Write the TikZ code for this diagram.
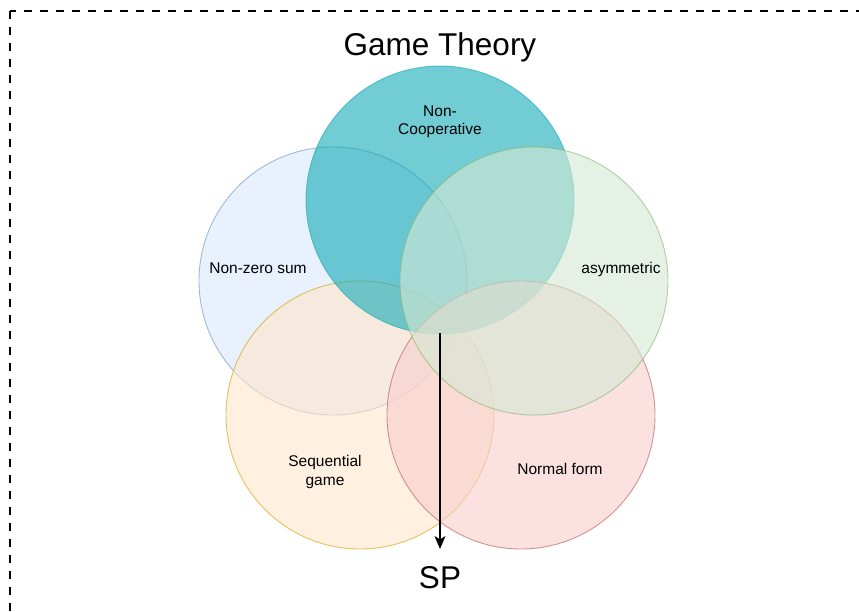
\documentclass[tikz,border=0pt]{standalone}
\usepackage{fontspec}
\setmainfont{Liberation Sans}
\usetikzlibrary{arrows.meta}

\definecolor{tealfill}{HTML}{12AAB5}
\definecolor{bluefill}{HTML}{DAE8FC}
\definecolor{blueline}{HTML}{6C8EBF}
\definecolor{greenfill}{HTML}{D5E8D4}
\definecolor{greenline}{HTML}{82B366}
\definecolor{orangefill}{HTML}{FFE6CC}
\definecolor{orangeline}{HTML}{D79B00}
\definecolor{redfill}{HTML}{F8CECC}
\definecolor{redline}{HTML}{B85450}

\tikzset{
  setcircle/.style={circle, minimum size=268pt, inner sep=0pt, line width=0.9pt,
    fill opacity=0.6, draw opacity=0.6},
  smalllabel/.style={font=\fontsize{15.5}{18.5}\selectfont, align=center, inner sep=0pt, anchor=base},
  biglabel/.style={font=\fontsize{31.5}{36}\selectfont, inner sep=0pt, anchor=base},
}

\begin{document}
\begin{tikzpicture}[x=1pt, y=-1pt]
  \useasboundingbox (0,0) rectangle (859,612);

  % dashed frame, running past the right and bottom edges
  \begin{scope}
    \clip (0,0) rectangle (859,612);
    \draw[line width=2pt, dash pattern=on 8pt off 8pt] (10,11) rectangle (900,660);
  \end{scope}

  % the five sets, back to front
  \node[setcircle, fill=bluefill, draw=blueline]     (nzs)   at (333,281) {};
  \node[setcircle, fill=orangefill, draw=orangeline] (seq)   at (360,415) {};
  \node[setcircle, fill=tealfill, draw=tealfill]     (coop)  at (440,200) {};
  \node[setcircle, fill=redfill, draw=redline]       (norm)  at (521,415) {};
  \node[setcircle, fill=greenfill, draw=greenline]   (asym)  at (534,281) {};

  % labels (multi-line labels are placed by their last baseline)
  \node[biglabel] (title) at (440,56) {Game Theory};
  \node[smalllabel] (lcoop) at (440,135) {Non-\\Cooperative};
  \node[smalllabel] (lnzs)  at (258,273) {Non-zero sum};
  \node[smalllabel] (lasym) at (621,273) {asymmetric};
  \node[smalllabel] (lseq)  at (325,485) {Sequential\\game};
  \node[smalllabel] (lnorm) at (560,474) {Normal form};

  % arrow from the common region down to SP
  \coordinate (core) at (440,333);
  \node[biglabel] (sp) at (440,588) {SP};
  \coordinate (sptop) at (440,549);
  \draw[line width=1.3pt, -{Stealth[length=13pt, width=11pt, inset=3.5pt]}] (core) -- (sptop);
\end{tikzpicture}
\end{document}
